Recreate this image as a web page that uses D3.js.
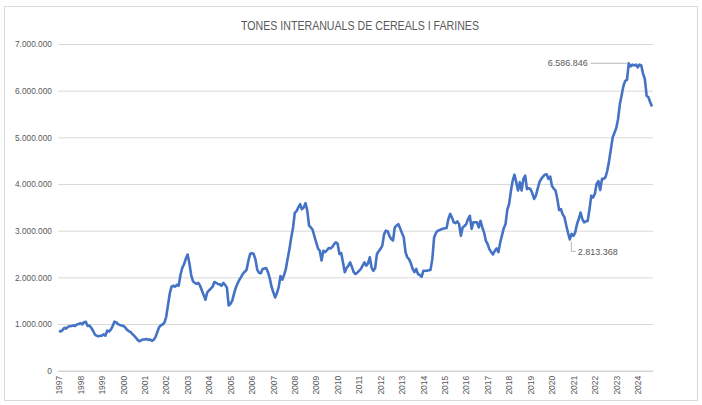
<!DOCTYPE html>
<html>
<head>
<meta charset="utf-8">
<script src="https://cdn.jsdelivr.net/npm/d3@7"></script>
<style>
  body { margin: 0; background: #fff; }
  text { font-family: "Liberation Sans", Arial, sans-serif; fill: #595959; }
</style>
</head>
<body>
<svg id="chart"></svg>
<script>
var W = 702, H = 405;

var title = "TONES INTERANUALS DE CEREALS I FARINES";
var years = d3.range(1997, 2025);
var yTicks = [0, 1e6, 2e6, 3e6, 4e6, 5e6, 6e6, 7e6];

// milers de tones, gen..des (2024 fins a setembre)
var tones = [
  [860, 840, 870, 920, 900, 940, 950, 960, 970, 960, 990, 1000],
  [1020, 990, 1040, 1050, 960, 970, 920, 860, 780, 750, 740, 750],
  [750, 780, 750, 860, 840, 880, 950, 1050, 1040, 1000, 980, 970],
  [960, 930, 880, 850, 830, 790, 750, 710, 660, 630, 650, 670],
  [670, 680, 660, 670, 640, 660, 720, 820, 930, 970, 990, 1030],
  [1150, 1400, 1650, 1800, 1820, 1800, 1840, 1820, 2050, 2200, 2280, 2400],
  [2490, 2300, 2050, 1920, 1880, 1860, 1880, 1820, 1720, 1620, 1520, 1680],
  [1720, 1760, 1800, 1900, 1880, 1860, 1850, 1820, 1880, 1840, 1780, 1400],
  [1430, 1500, 1650, 1780, 1870, 1950, 2010, 2080, 2120, 2160, 2350, 2500],
  [2520, 2500, 2380, 2160, 2100, 2090, 2180, 2190, 2200, 2110, 1980, 1800],
  [1680, 1570, 1660, 1790, 2030, 1950, 2050, 2180, 2400, 2600, 2850, 3050],
  [3380, 3420, 3500, 3570, 3460, 3500, 3590, 3430, 3110, 3070, 3020, 2880],
  [2750, 2620, 2570, 2360, 2570, 2540, 2580, 2630, 2620, 2650, 2710, 2750],
  [2720, 2500, 2520, 2320, 2110, 2200, 2250, 2320, 2220, 2110, 2070, 2100],
  [2140, 2180, 2250, 2320, 2250, 2300, 2430, 2210, 2140, 2200, 2500, 2560],
  [2610, 2680, 2920, 3000, 2990, 2890, 2820, 2790, 3070, 3110, 3140, 3050],
  [2950, 2860, 2540, 2430, 2390, 2300, 2180, 2110, 2180, 2070, 2050, 2010],
  [2140, 2140, 2140, 2150, 2160, 2390, 2850, 2950, 3000, 3010, 3030, 3040],
  [3050, 3060, 3250, 3360, 3280, 3180, 3160, 3200, 3140, 2890, 3070, 3100],
  [3140, 3250, 3320, 3040, 3180, 3180, 3180, 3070, 3210, 3070, 2960, 2780],
  [2710, 2600, 2540, 2490, 2570, 2620, 2540, 2740, 2900, 3050, 3140, 3450],
  [3570, 3850, 4070, 4200, 4040, 3860, 4040, 3860, 4110, 4180, 3890, 3910],
  [3890, 3800, 3680, 3750, 3900, 4040, 4110, 4160, 4200, 4210, 4110, 4160],
  [3960, 3900, 3860, 3680, 3440, 3460, 3350, 3290, 3110, 2950, 2813.368, 2930],
  [2890, 2960, 3140, 3250, 3390, 3250, 3180, 3200, 3210, 3460, 3750, 3710],
  [3790, 4000, 4060, 3870, 4110, 4110, 4150, 4290, 4500, 4750, 5000, 5100],
  [5200, 5390, 5710, 5900, 6100, 6210, 6230, 6586.846, 6520, 6560, 6540, 6560],
  [6500, 6560, 6540, 6360, 6250, 5890, 5860, 5750, 5660]
];

var series = [];
tones.forEach(function (row) {
  row.forEach(function (v) { series.push(v * 1000); });
});

var fmt = d3.formatLocale({ decimal: ",", thousands: ".", grouping: [3], currency: ["", ""] }).format(",.0f");

var svg = d3.select('#chart').attr('width', W).attr('height', H);

var x = d3.scaleLinear().domain([0, series.length - 1]).range([59, 652]);
var y = d3.scaleLinear().domain([0, 7e6]).range([370.7, 44]);

// marc
svg.append('rect')
  .attr('x', 4.5).attr('y', 6.5).attr('width', 693).attr('height', 394)
  .attr('fill', '#fff').attr('stroke', '#d9d9d9');

svg.append('text')
  .attr('x', 360).attr('y', 30)
  .attr('text-anchor', 'middle')
  .attr('font-size', 13)
  .attr('textLength', 238).attr('lengthAdjust', 'spacingAndGlyphs')
  .text(title);

// eix Y i graella
var yAxis = svg.append('g')
  .attr('transform', 'translate(58,0)')
  .call(d3.axisLeft(y).tickValues(yTicks).tickFormat(fmt).tickSize(-595).tickPadding(6));
yAxis.select('.domain').remove();
yAxis.selectAll('line').attr('stroke', function (d) { return d === 0 ? '#bfbfbf' : '#d9d9d9'; });
yAxis.selectAll('text').attr('font-size', 8.5).attr('fill', '#595959')
  .attr('textLength', 37).attr('lengthAdjust', 'spacingAndGlyphs')
  .filter(function (d) { return d === 0; }).attr('textLength', null);

// eix X: un rètol per cada gener
var xAxis = svg.append('g')
  .attr('transform', 'translate(0,' + y(0) + ')')
  .call(d3.axisBottom(x).tickValues(years.map(function (d, i) { return i * 12; }))
    .tickFormat(function (d) { return years[d / 12]; }).tickSize(0).tickPadding(0));
xAxis.select('.domain').remove();
xAxis.selectAll('text')
  .attr('font-size', 8.5).attr('fill', '#595959')
  .attr('text-anchor', 'end')
  .attr('transform', 'rotate(-90)')
  .attr('x', -5).attr('y', 0).attr('dy', '0.32em');

var line = d3.line()
  .x(function (d, i) { return x(i); })
  .y(function (d) { return y(d); });

svg.append('path')
  .datum(series)
  .attr('fill', 'none')
  .attr('stroke', '#4472c4')
  .attr('stroke-width', 2.6)
  .attr('stroke-linejoin', 'round')
  .attr('d', line);

// etiquetes de màxim i mínim recent
var iMax = d3.maxIndex(series);
var iMin = 276 + d3.minIndex(series.slice(276));

var px = x(iMax), py = y(series[iMax]);
svg.append('line')
  .attr('x1', px - 38).attr('x2', px - 1).attr('y1', py).attr('y2', py)
  .attr('stroke', '#a6a6a6').attr('stroke-width', 0.8);
svg.append('text')
  .attr('x', px - 41).attr('y', py).attr('dy', '0.35em')
  .attr('text-anchor', 'end').attr('font-size', 9)
  .attr('fill', '#404040')
  .text(fmt(series[iMax]));

var mx = x(iMin), my = y(series[iMin]);
svg.append('path')
  .attr('d', 'M' + (mx + 1.5) + ',' + (my + 2) + 'V' + (my + 12) + 'H' + (mx + 6))
  .attr('fill', 'none').attr('stroke', '#a6a6a6').attr('stroke-width', 0.8);
svg.append('text')
  .attr('x', mx + 8).attr('y', my + 12).attr('dy', '0.35em')
  .attr('font-size', 9).attr('fill', '#404040')
  .text(fmt(series[iMin]));
</script>
</body>
</html>
